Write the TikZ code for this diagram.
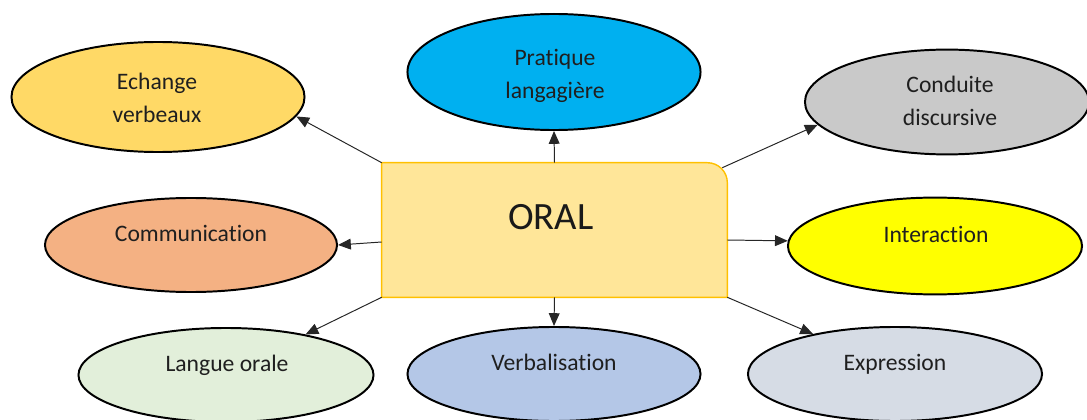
\documentclass[tikz,border=0pt]{standalone}
\usepackage{fontspec}
\setmainfont[Ligatures=NoCommon]{Carlito}
\usetikzlibrary{arrows.meta,shapes.geometric,calc}

\definecolor{fondboite}{HTML}{FFE699}
\definecolor{bordboite}{HTML}{FFC000}
\definecolor{coulechange}{HTML}{FFD966}
\definecolor{coulpratique}{HTML}{00B0F0}
\definecolor{coulconduite}{HTML}{C9C9C9}
\definecolor{coulcomm}{HTML}{F4B183}
\definecolor{coulinter}{HTML}{FFFF00}
\definecolor{coullangue}{HTML}{E2EFDA}
\definecolor{coulverbal}{HTML}{B4C7E7}
\definecolor{coulexpr}{HTML}{D6DCE5}

\tikzset{
  bulle/.style={ellipse, draw=black, line width=1.4pt, inner sep=0pt},
  texte/.style={font=\fontsize{16.8}{23.4}\selectfont, align=center, text=black!88, inner sep=0pt},
  ligne/.style={texte, text height=0.75em, text depth=0.25em},
  fleche/.style={-{Triangle[length=0.32cm,width=0.27cm]}, line width=0.7pt, draw=black!85},
}

\begin{document}
\begin{tikzpicture}[x=0.025cm, y=-0.025cm]
	\useasboundingbox (0,0) rectangle (1087,420);

	% Boîte centrale ORAL (coin arrondi en haut à droite)
	\node[minimum width=8.625cm, minimum height=3.35cm, inner sep=0pt] (oral) at (554.5,230) {};
	\fill[fondboite] (oral.south west) -- (oral.north west) -- ([xshift=-0.5cm]oral.north east)
		to[out=0,in=90] ([yshift=-0.5cm]oral.north east) -- (oral.south east) -- cycle;
	\draw[bordboite, line width=1pt] (oral.south west) -- (oral.north west) -- ([xshift=-0.5cm]oral.north east)
		to[out=0,in=90] ([yshift=-0.5cm]oral.north east) -- (oral.south east) -- cycle;
	\node[font=\fontsize{27.5}{31}\selectfont, text=black!90, inner sep=0pt] (oral-t) at (551,217) {ORAL};

	% Ellipses du haut
	\node[bulle, fill=coulechange, minimum width=7.325cm, minimum height=2.75cm] (echange) at (158,97) {};
	\node[texte] (echange-t) at (157,98) {Echange\\verbeaux};

	\node[bulle, fill=coulpratique, minimum width=7.325cm, minimum height=2.9cm] (pratique) at (554,72) {};
	\node[texte] (pratique-t) at (555,76) {Pratique\\langagière};

	\node[bulle, fill=coulconduite, minimum width=7.1cm, minimum height=2.62cm] (conduite) at (947,102) {};
	\node[texte] (conduite-t) at (950,101) {Conduite\\discursive};

	% Ellipses du milieu
	\node[bulle, fill=coulcomm, minimum width=7.3cm, minimum height=2.35cm] (comm) at (191,245) {};
	\node[ligne] (comm-t) at (191,238) {Communication};

	\node[bulle, fill=coulinter, minimum width=7.35cm, minimum height=2.42cm] (inter) at (935,246) {};
	\node[ligne] (inter-t) at (936,239) {Interaction};

	% Ellipses du bas
	\node[bulle, fill=coullangue, minimum width=7.375cm, minimum height=2.35cm] (langue) at (226,375) {};
	\node[ligne] (langue-t) at (227,368) {Langue orale};

	\node[bulle, fill=coulverbal, minimum width=7.325cm, minimum height=2.35cm] (verbal) at (554,374) {};
	\node[ligne] (verbal-t) at (554,367) {Verbalisation};

	\node[bulle, fill=coulexpr, minimum width=7.35cm, minimum height=2.35cm] (expr) at (895,374) {};
	\node[ligne] (expr-t) at (895,367) {Expression};

	% Flèches partant de la boîte ORAL
	\draw[fleche] (oral.north west) -- (echange.-8);
	\draw[fleche] (oral.north) -- (pratique.south);
	\draw[fleche] ($(oral.north east)+(-5,5)$) -- (conduite.190);
	\draw[fleche] ($(oral.west)+(0,12)$) -- (comm.east);
	\draw[fleche] ($(oral.east)+(0,10)$) -- (inter.178);
	\draw[fleche] (oral.south west) -- (langue.27);
	\draw[fleche] (oral.south) -- (verbal.north);
	\draw[fleche] (oral.south east) -- (expr.154);

\end{tikzpicture}
\end{document}
